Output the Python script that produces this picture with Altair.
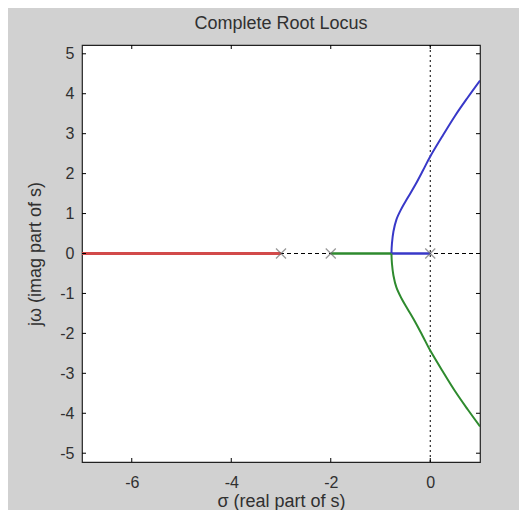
import altair as alt
import pandas as pd

# --- data ---
red_x = [-7.0, -3.0]
red_y = [0.0, 0.0]
green_real_x = [-2.0, -0.78]
green_real_y = [0.0, 0.0]
blue_real_x = [0.0, -0.78]
blue_real_y = [0.0, 0.0]
blue_branch_x = [-0.78, -0.77, -0.74, -0.68, -0.58, -0.45, -0.3, -0.15, 0.0, 0.25, 0.5, 0.75, 1.0]
blue_branch_y = [0.0, 0.25, 0.55, 0.85, 1.12, 1.4, 1.72, 2.07, 2.43, 2.95, 3.45, 3.9, 4.33]
green_branch_x = [-0.78, -0.77, -0.74, -0.68, -0.58, -0.45, -0.3, -0.15, 0.0, 0.25, 0.5, 0.75, 1.0]
green_branch_y = [0.0, -0.25, -0.55, -0.85, -1.12, -1.4, -1.72, -2.07, -2.43, -2.95, -3.45, -3.9, -4.33]
pole_x = [-3.0, -2.0, 0.0]
pole_y = [0.0, 0.0, 0.0]
x_ticks = [-6, -4, -2, 0]
y_ticks = [-5, -4, -3, -2, -1, 0, 1, 2, 3, 4, 5]
x_domain = [-7, 1]
y_domain = [-5.22, 5.22]

W, H = 398, 417
TXT = "#303030"
FONT = "Liberation Sans"

xs = alt.Scale(domain=x_domain, nice=False, zero=False)
ys = alt.Scale(domain=y_domain, nice=False, zero=False)

def seg_df(xv, yv):
    return pd.DataFrame({"x": xv, "y": yv, "i": list(range(len(xv)))})

xenc = alt.X("x:Q", scale=xs,
             axis=alt.Axis(values=x_ticks, ticks=False, grid=False, domain=False,
                           labelExpr="'' + datum.value",
                           labelPadding=12, labelFontSize=16, labelColor=TXT, labelFont=FONT,
                           title="σ (real part of s)", titleFontSize=18, titleFont=FONT,
                           titleColor=TXT, titleFontWeight="normal", titlePadding=2))
yenc = alt.Y("y:Q", scale=ys,
             axis=alt.Axis(values=y_ticks, ticks=False, grid=False, domain=False,
                           labelExpr="'' + datum.value",
                           labelPadding=8, labelFontSize=16, labelColor=TXT, labelFont=FONT,
                           title="jω (imag part of s)", titleFontSize=18, titleFont=FONT,
                           titleColor=TXT, titleFontWeight="normal", titlePadding=15))

zero_h = alt.Chart(pd.DataFrame({"y": [0.0]})).mark_rule(
    color="black", strokeWidth=1, strokeDash=[4, 3]).encode(y=yenc)
zero_v = alt.Chart(pd.DataFrame({"x": [0.0]})).mark_rule(
    color="black", strokeWidth=1, strokeDash=[2, 3]).encode(x=xenc)

def line(df, color, width):
    return alt.Chart(df).mark_line(color=color, strokeWidth=width, clip=True,
                                   interpolate="monotone").encode(
        x=alt.X("x:Q", scale=xs), y=alt.Y("y:Q", scale=ys), order="i:Q")

red = line(seg_df(red_x, red_y), "#d24a4a", 3.2)
green_r = line(seg_df(green_real_x, green_real_y), "#2e8a2e", 2.6)
blue_r = line(seg_df(blue_real_x, blue_real_y), "#3838c8", 2.6)
blue_b = alt.Chart(seg_df(blue_branch_x, blue_branch_y)).mark_line(
    color="#3838c8", strokeWidth=2, clip=True, interpolate="cardinal").encode(
    x=alt.X("x:Q", scale=xs), y=alt.Y("y:Q", scale=ys), order="i:Q")
green_b = alt.Chart(seg_df(green_branch_x, green_branch_y)).mark_line(
    color="#2e8a2e", strokeWidth=2, clip=True, interpolate="cardinal").encode(
    x=alt.X("x:Q", scale=xs), y=alt.Y("y:Q", scale=ys), order="i:Q")

poles = alt.Chart(pd.DataFrame({"x": pole_x, "y": pole_y})).mark_point(
    shape="M-1,-1L1,1M1,-1L-1,1", size=100, filled=False, color="#6f6f6f", strokeWidth=1.3
).encode(x=alt.X("x:Q", scale=xs), y=alt.Y("y:Q", scale=ys))

xt = pd.DataFrame({"x": x_ticks})
yt = pd.DataFrame({"y": y_ticks})
tick_b = alt.Chart(xt).mark_rule(color="black", strokeWidth=1).encode(
    x=alt.X("x:Q", scale=xs), y=alt.value(H), y2=alt.value(H - 4))
tick_t = alt.Chart(xt).mark_rule(color="black", strokeWidth=1).encode(
    x=alt.X("x:Q", scale=xs), y=alt.value(0), y2=alt.value(4))
tick_l = alt.Chart(yt).mark_rule(color="black", strokeWidth=1).encode(
    y=alt.Y("y:Q", scale=ys), x=alt.value(0), x2=alt.value(4))
tick_r = alt.Chart(yt).mark_rule(color="black", strokeWidth=1).encode(
    y=alt.Y("y:Q", scale=ys), x=alt.value(W), x2=alt.value(W - 4))

chart = alt.layer(
    zero_h, zero_v, red, green_r, blue_r, blue_b, green_b, poles,
    tick_b, tick_t, tick_l, tick_r
).properties(
    width=W, height=H,
    title=alt.TitleParams("Complete Root Locus", fontSize=18, font=FONT, color=TXT,
                          fontWeight="normal", anchor="middle", offset=12),
    autosize=alt.AutoSizeParams(type="none"),
    padding={"left": 74, "top": 37, "right": 39, "bottom": 48},
    background="#d1d1d1",
).configure_view(
    fill="white", stroke="#222222", strokeWidth=1.2
)

chart.save("out.html", embed_options={"renderer": "svg", "actions": False})
